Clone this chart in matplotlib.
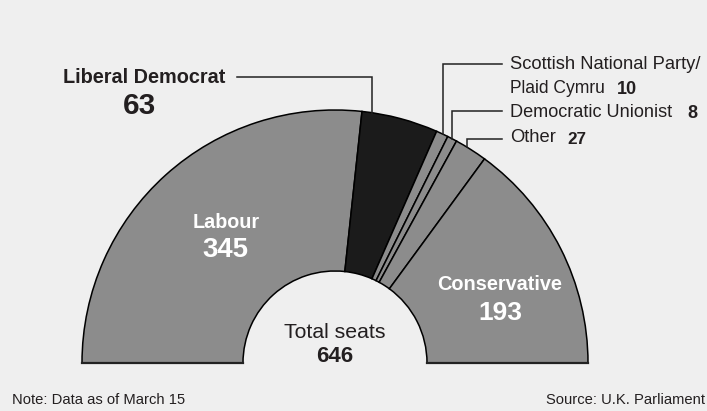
import numpy as np
import matplotlib.pyplot as plt

# datos
partidos = ['Labour', 'Liberal Democrat', 'Scottish National Party/\nPlaid Cymru', 'Democratic Unionist', 'Other', 'Conservative']
escanos = [345, 63, 10, 8, 27, 193]
colores = ['#8c8c8c', '#1b1b1b', '#8c8c8c', '#8c8c8c', '#8c8c8c', '#8c8c8c']
total = sum(escanos)

plt.rcParams['font.family'] = ['Liberation Sans', 'DejaVu Sans']

fondo = '#efefef'
texto = '#231f20'

fig = plt.figure(figsize=(7.07, 4.11), dpi=100, facecolor=fondo)
ax = fig.add_axes([0, 0, 1, 1])
ax.set_facecolor(fondo)
rend = fig.canvas.get_renderer()

# media dona: la mitad de abajo es invisible
centro = (335, 411 - 363)
r_ext = 253
r_int = 92
wedges, _ = ax.pie(escanos + [total], colors=colores + [fondo], startangle=180,
                   counterclock=False, radius=r_ext, center=centro, frame=True,
                   wedgeprops=dict(width=r_ext - r_int, edgecolor='black', linewidth=1.1))
wedges[-1].set_visible(False)
ax.plot([centro[0] - r_ext, centro[0] - r_int], [centro[1], centro[1]], color='#222222', lw=1.6)
ax.plot([centro[0] + r_int, centro[0] + r_ext], [centro[1], centro[1]], color='#222222', lw=1.6)

ax.set_xlim(0, 707)
ax.set_ylim(0, 411)
ax.axis('off')

# texto ajustado a un ancho en pixeles
def txt(x, y, s, ancho, **kw):
    t = ax.text(x, 411 - y, s, fontsize=12, va='center', **kw)
    w = t.get_window_extent(rend).width
    t.set_fontsize(12 * ancho / w)
    return t

txt(226, 222, 'Labour', 67, color='white', fontweight='bold', ha='center')
txt(225, 250, str(escanos[0]), 46, color='white', fontweight='bold', ha='center')
txt(500, 285, 'Conservative', 124, color='white', fontweight='bold', ha='center')
txt(500, 313, str(escanos[5]), 44, color='white', fontweight='bold', ha='center')
txt(335, 333, 'Total seats', 102, color=texto, ha='center')
txt(335, 357, str(total), 37, color=texto, fontweight='bold', ha='center')

# lineas guia
def guia(i, frac, y_lab, x_lab):
    inicio = 180 - sum(escanos[:i]) / total * 180
    fin = 180 - sum(escanos[:i + 1]) / total * 180
    ang = np.radians(inicio + (fin - inicio) * frac)
    x0 = centro[0] + r_ext * np.cos(ang)
    y0 = centro[1] + r_ext * np.sin(ang)
    ax.plot([x0, x0, x_lab], [y0, 411 - y_lab, 411 - y_lab], color='#222222', lw=1.1, solid_joinstyle='miter')

guia(1, 0.13, 77, 237)
guia(2, 0.6, 64, 502)
guia(3, 0.5, 111, 502)
guia(4, 0.35, 139, 502)

txt(144, 77, 'Liberal Democrat', 162, color=texto, fontweight='bold', ha='center')
txt(140, 106, str(escanos[1]), 33, color=texto, fontweight='bold', ha='center')

txt(510, 64, 'Scottish National Party/', 192, color=texto, ha='left')
txt(510, 88, 'Plaid Cymru', 96, color=texto, ha='left')
txt(617, 89, str(escanos[2]), 20, color=texto, fontweight='bold', ha='left')
txt(510, 112, 'Democratic Unionist', 163, color=texto, ha='left')
txt(687, 113, str(escanos[3]), 10, color=texto, fontweight='bold', ha='left')
txt(510, 137, 'Other', 46, color=texto, ha='left')
txt(567, 139, str(escanos[4]), 19, color=texto, fontweight='bold', ha='left')

nota = txt(12, 400, 'Note: Data as of March 15', 173, color=texto, ha='left')
ax.text(705, 411 - 400, 'Source: U.K. Parliament', color=texto, ha='right', va='center',
        fontsize=nota.get_fontsize())

fig.savefig('out.png', dpi=100, facecolor=fondo)
